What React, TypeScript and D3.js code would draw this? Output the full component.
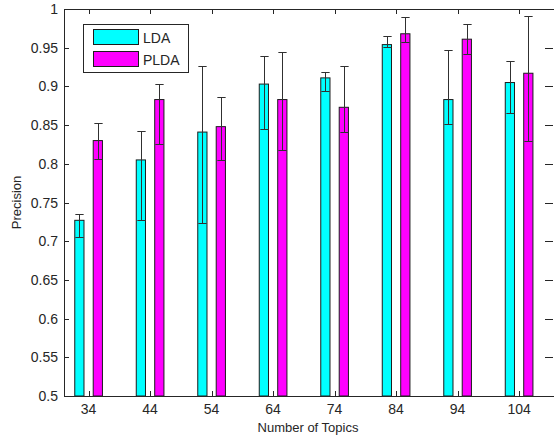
import React from 'react'
import * as d3 from 'd3'

// number of topics (x categories)
const topics = [34, 44, 54, 64, 74, 84, 94, 104]

// LDA precision: bar height, error bar low / high
const ldaMean = [0.727, 0.805, 0.841, 0.903, 0.911, 0.954, 0.883, 0.905]
const ldaLow = [0.706, 0.727, 0.723, 0.845, 0.894, 0.951, 0.852, 0.865]
const ldaHigh = [0.735, 0.842, 0.927, 0.939, 0.919, 0.965, 0.947, 0.933]

// PLDA precision
const pldaMean = [0.830, 0.883, 0.848, 0.883, 0.873, 0.968, 0.961, 0.917]
const pldaLow = [0.806, 0.825, 0.805, 0.818, 0.841, 0.957, 0.942, 0.829]
const pldaHigh = [0.853, 0.903, 0.886, 0.944, 0.927, 0.990, 0.981, 0.991]

const yTicks = [0.5, 0.55, 0.6, 0.65, 0.7, 0.75, 0.8, 0.85, 0.9, 0.95, 1]
const seriesNames = ['LDA', 'PLDA']

const width = 554
const height = 437
const font = '"Liberation Sans", Arial, sans-serif'

const App = () => {
    const x = d3.scaleLinear().domain([30, 110]).range([64, 556])
    const y = d3.scaleLinear().domain([0.5, 1]).range([396, 9])
    const fmt = (v: number) => (v === 1 ? '1' : String(+v.toFixed(2)))

    const series = [
        { name: seriesNames[0], color: '#00ffff', off: -1.5, mean: ldaMean, low: ldaLow, high: ldaHigh },
        { name: seriesNames[1], color: '#ff00ff', off: 1.5, mean: pldaMean, low: pldaLow, high: pldaHigh },
    ]
    const barW = x(31.5) - x(30)
    const capW = barW * 0.9
    const [x0, x1] = x.range()
    const [yb, yt] = y.range()

    return (
        <svg width={width} height={height} style={{ position: 'absolute', left: 0, top: 0, background: '#fff' }}
            fontFamily={font}>
            {/* bars */}
            {series.map(s => (
                <g key={s.name}>
                    {topics.map((t, i) => (
                        <rect key={t} x={x(t + s.off) - barW / 2} y={y(s.mean[i])}
                            width={barW} height={yb - y(s.mean[i])}
                            fill={s.color} stroke="#1c1c1c" strokeWidth={1} />
                    ))}
                </g>
            ))}
            {/* error bars */}
            {series.map(s => (
                <g key={s.name + 'e'} stroke="#303030" strokeWidth={1}>
                    {topics.map((t, i) => {
                        const cx = Math.round(x(t + s.off)) + 0.5
                        const lo = Math.round(y(s.low[i])) + 0.5
                        const hi = Math.round(y(s.high[i])) + 0.5
                        return (
                            <g key={t}>
                                <line x1={cx} x2={cx} y1={lo} y2={hi} />
                                <line x1={cx - capW / 2} x2={cx + capW / 2} y1={lo} y2={lo} />
                                <line x1={cx - capW / 2} x2={cx + capW / 2} y1={hi} y2={hi} />
                            </g>
                        )
                    })}
                </g>
            ))}
            {/* axes box */}
            <rect x={x0 + 0.5} y={yt + 0.5} width={x1 - x0} height={yb - yt} fill="none" stroke="#262626" />
            {topics.map(t => (
                <g key={t} stroke="#262626">
                    <line x1={Math.round(x(t)) + 0.5} x2={Math.round(x(t)) + 0.5} y1={yb} y2={yb - 5} />
                    <line x1={Math.round(x(t)) + 0.5} x2={Math.round(x(t)) + 0.5} y1={yt} y2={yt + 5} />
                </g>
            ))}
            {yTicks.map(v => (
                <g key={v} stroke="#262626">
                    <line x1={x0} x2={x0 + 5} y1={Math.round(y(v)) + 0.5} y2={Math.round(y(v)) + 0.5} />
                    <line x1={x1 - 11} x2={x1 - 3} y1={Math.round(y(v)) + 0.5} y2={Math.round(y(v)) + 0.5} />
                </g>
            ))}
            {/* tick labels */}
            {yTicks.map(v => (
                <text key={v} x={58} y={y(v) + 5} textAnchor="end" fontSize={14} fill="#262626">{fmt(v)}</text>
            ))}
            {topics.map(t => (
                <text key={t} x={x(t)} y={414} textAnchor="middle" fontSize={14} fill="#262626">{t}</text>
            ))}
            <text x={308} y={432} textAnchor="middle" fontSize={13} fill="#262626">Number of Topics</text>
            <text transform={`translate(21,${(yb + yt) / 2}) rotate(-90)`} textAnchor="middle" fontSize={13}
                fill="#262626">Precision</text>
            {/* legend */}
            <rect x={83.5} y={24.5} width={105} height={48} fill="#fff" stroke="#262626" />
            {series.map((s, i) => (
                <g key={s.name + 'l'}>
                    <rect x={93.5} y={29.5 + i * 22} width={45} height={15} fill={s.color} stroke="#1c1c1c" />
                    <text x={143} y={43 + i * 21.5} fontSize={14} fill="#262626">{s.name}</text>
                </g>
            ))}
        </svg>
    )
}

export default App
